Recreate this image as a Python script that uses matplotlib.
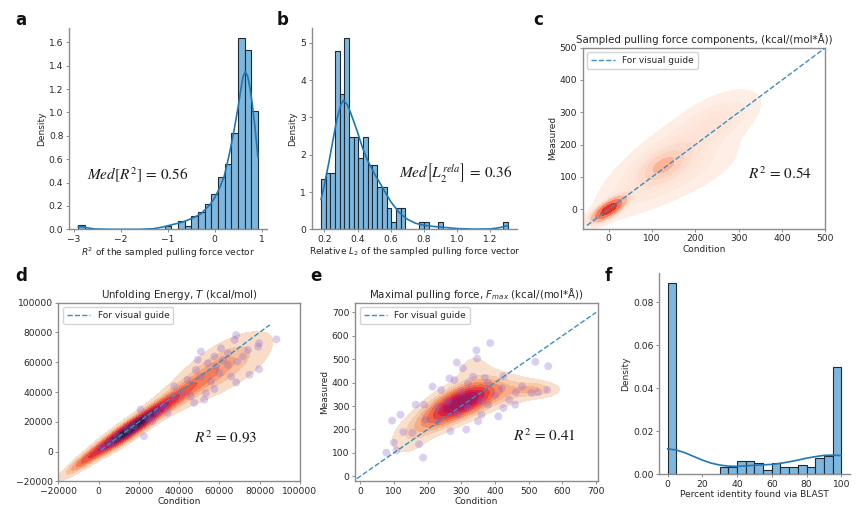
import numpy as np
import matplotlib
matplotlib.use("Agg")
import matplotlib.pyplot as plt
from matplotlib.colors import PowerNorm, ListedColormap

try:
    import seaborn as sns
    ROCKET_R = sns.color_palette("rocket_r", as_cmap=True)
except Exception:
    ROCKET_R = plt.get_cmap("magma_r")

plt.rcParams['font.family'] = ['DejaVu Sans']
plt.rcParams['mathtext.fontset'] = 'dejavusans'

# ---------------- data ----------------
# a: histogram of R^2 (27 bins)
a_bin_lo, a_bin_hi = -2.905, 0.919
a_density = [0.034, 0, 0, 0, 0, 0, 0, 0, 0, 0, 0, 0, 0, 0.03, 0, 0.07, 0.03,
             0.11, 0.15, 0.22, 0.30, 0.45, 0.56, 0.82, 1.64, 1.53, 1.01]
a_kde_x = [-2.90, -2.82, -2.70, -2.55, -2.2, -1.6, -1.3, -1.1, -0.9, -0.7, -0.5,
           -0.3, -0.1, 0.0, 0.1, 0.2, 0.3, 0.4, 0.5, 0.55, 0.6, 0.65, 0.7, 0.75,
           0.8, 0.85, 0.919]
a_kde_y = [0.022, 0.022, 0.012, 0.003, 0.0, 0.0, 0.005, 0.02, 0.04, 0.06, 0.09,
           0.13, 0.21, 0.27, 0.35, 0.45, 0.62, 0.82, 1.05, 1.18, 1.30, 1.35, 1.31,
           1.21, 1.07, 0.90, 0.62]

# b: histogram of relative L2 (40 bins)
b_bin_lo, b_bin_hi = 0.18, 1.306
b_density = [1.34, 1.52, 1.52, 4.78, 3.62, 5.14, 2.48, 2.48, 1.91, 2.48, 1.72, 1.72,
             1.14, 1.14, 0.57, 0.19, 0.57, 0.57, 0, 0, 0, 0.19, 0.19, 0, 0, 0.19,
             0, 0, 0, 0, 0, 0, 0, 0, 0, 0, 0, 0, 0, 0.19]
b_kde_x = [0.18, 0.20, 0.225, 0.25, 0.275, 0.30, 0.315, 0.34, 0.36, 0.38, 0.40,
           0.43, 0.46, 0.50, 0.55, 0.60, 0.65, 0.70, 0.75, 0.80, 0.85, 0.90,
           0.95, 1.00, 1.10, 1.20, 1.25, 1.306]
b_kde_y = [0.80, 1.20, 1.75, 2.35, 2.95, 3.35, 3.46, 3.33, 3.10, 2.85, 2.60,
           2.18, 1.85, 1.50, 1.12, 0.74, 0.45, 0.27, 0.16, 0.11, 0.08, 0.06,
           0.04, 0.02, 0.005, 0.01, 0.04, 0.10]

# f: histogram of BLAST percent identity (20 bins)
f_bin_lo, f_bin_hi = 0, 100
f_density = [0.089, 0, 0, 0, 0, 0, 0.0033, 0.0033, 0.0064, 0.0064, 0.0053, 0.0020,
             0.0053, 0.0033, 0.0033, 0.0043, 0.0033, 0.0075, 0.0085, 0.050]
f_kde_x = [0, 5, 10, 15, 20, 25, 30, 35, 40, 45, 50, 55, 60, 65, 70, 75, 80, 85,
           90, 95, 100]
f_kde_y = [0.0118, 0.0113, 0.0100, 0.0083, 0.0066, 0.0052, 0.0043, 0.0038, 0.0037,
           0.0039, 0.0042, 0.0044, 0.0046, 0.0051, 0.0058, 0.0066, 0.0075, 0.0082,
           0.0088, 0.0089, 0.0087]

# c: density cloud components (centre, spread, correlation, weight)
c_blob_x = [0, 125, 140, 260, 180]
c_blob_y = [0, 135, 155, 285, 110]
c_blob_sx = [20, 32, 85, 50, 80]
c_blob_sy = [20, 32, 90, 45, 60]
c_blob_r = [0.75, 0.5, 0.8, 0.5, 0.7]
c_blob_w = [0.30, 0.10, 0.42, 0.08, 0.10]
c_guide = [-50, 500]

# d: density cloud components and scatter points
d_blob_x = [13000, 27000, 40000, 55000, 66000, -5000, 60000]
d_blob_y = [12500, 26000, 38000, 52000, 60000, -4000, 55000]
d_blob_sx = [9000, 8000, 9000, 10000, 11000, 7000, 19000]
d_blob_sy = [8500, 7500, 8500, 10000, 11000, 7000, 18000]
d_blob_r = [0.92, 0.90, 0.86, 0.75, 0.55, 0.93, 0.8]
d_blob_w = [0.36, 0.15, 0.12, 0.11, 0.08, 0.07, 0.11]
d_pts_x = [68300, 67500, 79700, 88300, 79200, 50800, 60800, 64200, 57500, 68800,
           64200, 58300, 79700, 75000, 68300, 65800, 50800, 48300, 44200, 37500,
           57500, 52500, 47500, 45800, 41700, 37500, 32500, 29200, 24200, 20800,
           22500, 14200, 9200, 5800, 1700, 54200, 61700, 49200, 71700, 74200,
           60000, 55800, 53300, 34200, 26700, 17500]
d_pts_y = [78200, 74900, 72700, 75300, 70400, 67100, 69300, 66000, 63800, 60400,
           58200, 57100, 55300, 51600, 46400, 50400, 50400, 54900, 48200, 43800,
           42000, 34900, 32700, 37100, 39300, 37100, 30400, 26000, 22700, 28200,
           10400, 14900, 10400, 6000, 2700, 59300, 61600, 61600, 63800, 68200,
           52700, 47100, 39300, 26000, 20400, 17100]
d_guide = [1000, 85000]

# e: density cloud components and scatter points
e_blob_x = [295, 330, 220, 430, 150, 340, 520]
e_blob_y = [312, 340, 240, 360, 170, 450, 370]
e_blob_sx = [55, 60, 45, 60, 40, 40, 40]
e_blob_sy = [45, 50, 40, 35, 50, 55, 20]
e_blob_r = [0.6, 0.5, 0.5, 0.3, 0.4, 0.0, 0.0]
e_blob_w = [0.47, 0.20, 0.11, 0.09, 0.05, 0.04, 0.04]
e_pts_x = [386, 345, 347, 287, 520, 558, 370, 425, 480, 508, 528, 555, 462, 442,
           410, 350, 315, 268, 215, 165, 120, 95, 128, 100, 78, 108, 187, 175,
           155, 195, 230, 260, 300, 320, 280, 335, 380, 400, 360, 320, 290, 230,
           190, 380, 420, 240, 265, 305, 460, 425, 360]
e_pts_y = [569, 538, 503, 486, 489, 470, 421, 428, 383, 356, 359, 369, 359, 327,
           256, 235, 200, 193, 383, 306, 263, 238, 189, 144, 101, 111, 80, 137,
           186, 242, 292, 320, 362, 397, 411, 425, 397, 348, 320, 292, 263, 235,
           306, 306, 376, 369, 418, 461, 306, 292, 263]
e_guide = [-10, 700]

# ---------------- helpers ----------------
HIST_FACE = '#7db7df'
HIST_EDGE = '#1e2a36'
KDE_COL = '#1f77b4'
GUIDE_COL = '#3a8fc2'
SPINE_COL = '#8c8c8c'
TXT = '#262626'
TICK_FS = 6.6
LAB_FS = 6.5


def style_ticks(ax):
    ax.tick_params(labelsize=TICK_FS, colors=TXT, length=2.5, width=0.7,
                   color=SPINE_COL, pad=1.5)
    for s in ax.spines.values():
        s.set_color(SPINE_COL)
        s.set_linewidth(1.0)


def hist_panel(ax, lo, hi, dens, kx, ky):
    n = len(dens)
    edges = np.linspace(lo, hi, n + 1)
    w = edges[1] - edges[0]
    dens = np.asarray(dens, float)
    keep = dens > 0
    ax.bar(edges[:-1][keep], dens[keep], width=w, align='edge',
           color=HIST_FACE, edgecolor=HIST_EDGE, linewidth=0.8)
    ax.plot(kx, ky, color=KDE_COL, lw=1.2)
    ax.set_xlim(lo - 0.05 * (hi - lo), hi + 0.05 * (hi - lo))
    ax.set_ylim(0, dens.max() * 1.05)
    ax.spines['top'].set_visible(False)
    ax.spines['right'].set_visible(False)
    ax.set_ylabel('Density', fontsize=LAB_FS, color=TXT, labelpad=2)
    style_ticks(ax)


def mixture(X, Y, bx, by, bsx, bsy, br, bw):
    Z = np.zeros_like(X)
    for x0, y0, sx, sy, r, w in zip(bx, by, bsx, bsy, br, bw):
        u = (X - x0) / sx
        v = (Y - y0) / sy
        q = (u * u - 2 * r * u * v + v * v) / (1 - r * r)
        Z += w * np.exp(-0.5 * q) / (2 * np.pi * sx * sy * np.sqrt(1 - r * r))
    return Z


def iso_levels(Z, props):
    vals = np.sort(Z.ravel())[::-1]
    cum = np.cumsum(vals) / vals.sum()
    idx = np.searchsorted(cum, 1 - np.asarray(props))
    return np.take(vals, idx, mode='clip')


def sub_cmap(cmap, lo, hi):
    return ListedColormap(cmap(np.linspace(lo, hi, 256)))


def density_grid(xlim, ylim, blobs):
    xs = np.linspace(xlim[0], xlim[1], 320)
    ys = np.linspace(ylim[0], ylim[1], 320)
    X, Y = np.meshgrid(xs, ys)
    Z = mixture(X, Y, *blobs)
    lv = np.unique(iso_levels(Z, np.linspace(0.05, 1, 10)))
    return X, Y, Z, lv


def density_panel_norm(ax, xlim, ylim, blobs, cmap, gamma):
    X, Y, Z, lv = density_grid(xlim, ylim, blobs)
    ax.contourf(X, Y, Z, levels=lv, cmap=cmap,
                norm=PowerNorm(gamma, vmin=0, vmax=Z.max()), zorder=1)


def density_panel_bands(ax, xlim, ylim, blobs, cmap, positions):
    X, Y, Z, lv = density_grid(xlim, ylim, blobs)
    cols = [cmap(p) for p in positions[:len(lv) - 1]]
    ax.contourf(X, Y, Z, levels=lv, colors=cols, zorder=1)


def guide(ax, g):
    ax.plot(g, g, ls='--', color=GUIDE_COL, lw=1.0, label='For visual guide',
            zorder=3)
    leg = ax.legend(loc='upper left', fontsize=6.5, handlelength=2.6,
                    borderpad=0.45, framealpha=0.9, edgecolor='#d0d0d0',
                    fancybox=True)
    for t in leg.get_texts():
        t.set_color(TXT)


# ---------------- figure ----------------
fig = plt.figure(figsize=(8.64, 5.07), dpi=100)

# a
ax_a = fig.add_axes([0.0799, 0.5477, 0.229, 0.397])
hist_panel(ax_a, a_bin_lo, a_bin_hi, a_density, a_kde_x, a_kde_y)
ax_a.set_xticks([-3, -2, -1, 0, 1])
ax_a.set_yticks(np.arange(0, 1.61, 0.2))
ax_a.set_xlabel('$R^2$ of the sampled pulling force vector', fontsize=LAB_FS,
                color=TXT, labelpad=1)

# b
ax_b = fig.add_axes([0.3608, 0.5477, 0.238, 0.397])
hist_panel(ax_b, b_bin_lo, b_bin_hi, b_density, b_kde_x, b_kde_y)
ax_b.set_xticks([0.2, 0.4, 0.6, 0.8, 1.0, 1.2])
ax_b.set_xlabel('Relative $L_2$ of the sampled pulling force vector',
                fontsize=LAB_FS, color=TXT, labelpad=1)

# c
ax_c = fig.add_axes([0.6744, 0.549, 0.281, 0.357])
c_xlim, c_ylim = (-60, 500), (-60, 500)
density_panel_norm(ax_c, c_xlim, c_ylim,
                   (c_blob_x, c_blob_y, c_blob_sx, c_blob_sy, c_blob_r, c_blob_w),
                   sub_cmap(plt.get_cmap('Reds'), 0.0, 0.75), 0.72)
guide(ax_c, c_guide)
ax_c.set_xlim(*c_xlim)
ax_c.set_ylim(*c_ylim)
ax_c.set_xticks(range(0, 501, 100))
ax_c.set_yticks(range(0, 501, 100))
ax_c.set_xlabel('Condition', fontsize=LAB_FS, color=TXT, labelpad=1)
ax_c.set_ylabel('Measured', fontsize=LAB_FS, color=TXT, labelpad=2)
ax_c.set_title('Sampled pulling force components, (kcal/(mol*Å))',
               fontsize=7.4, color=TXT, pad=3)
style_ticks(ax_c)

# d
ax_d = fig.add_axes([0.0675, 0.0503, 0.2797, 0.353])
d_xlim, d_ylim = (-20000, 100000), (-20000, 100000)
density_panel_bands(ax_d, d_xlim, d_ylim,
                    (d_blob_x, d_blob_y, d_blob_sx, d_blob_sy, d_blob_r, d_blob_w),
                    ROCKET_R,
                    [0.04, 0.11, 0.19, 0.27, 0.35, 0.44, 0.56, 0.70, 0.84])
ax_d.scatter(d_pts_x, d_pts_y, s=32, color='#8a63d2', alpha=0.3,
             edgecolors='none', zorder=2)
guide(ax_d, d_guide)
ax_d.set_xlim(*d_xlim)
ax_d.set_ylim(*d_ylim)
ax_d.set_xticks(range(-20000, 100001, 20000))
ax_d.set_yticks(range(-20000, 100001, 20000))
ax_d.set_xlabel('Condition', fontsize=LAB_FS, color=TXT, labelpad=0.5)
ax_d.set_title('Unfolding Energy, $T$ (kcal/mol)', fontsize=7.4, color=TXT,
               pad=3)
style_ticks(ax_d)

# e
ax_e = fig.add_axes([0.4109, 0.0503, 0.281, 0.353])
e_xlim, e_ylim = (-15, 705), (-22, 742)
density_panel_bands(ax_e, e_xlim, e_ylim,
                    (e_blob_x, e_blob_y, e_blob_sx, e_blob_sy, e_blob_r, e_blob_w),
                    ROCKET_R,
                    [0.03, 0.09, 0.16, 0.24, 0.32, 0.40, 0.47, 0.54, 0.60])
ax_e.scatter(e_pts_x, e_pts_y, s=32, color='#8a63d2', alpha=0.3,
             edgecolors='none', zorder=2)
guide(ax_e, e_guide)
ax_e.set_xlim(*e_xlim)
ax_e.set_ylim(*e_ylim)
ax_e.set_xticks(range(0, 701, 100))
ax_e.set_yticks(range(0, 701, 100))
ax_e.set_xlabel('Condition', fontsize=LAB_FS, color=TXT, labelpad=0.5)
ax_e.set_ylabel('Measured', fontsize=LAB_FS, color=TXT, labelpad=2)
ax_e.set_title('Maximal pulling force, $F_{max}$ (kcal/(mol*Å))', fontsize=7.4,
               color=TXT, pad=3)
style_ticks(ax_e)

# f
ax_f = fig.add_axes([0.7627, 0.0645, 0.221, 0.3965])
hist_panel(ax_f, f_bin_lo, f_bin_hi, f_density, f_kde_x, f_kde_y)
ax_f.set_xticks(range(0, 101, 20))
ax_f.set_yticks([0.0, 0.02, 0.04, 0.06, 0.08])
ax_f.set_yticklabels(['0.00', '0.02', '0.04', '0.06', '0.08'])
ax_f.set_xlabel('Percent identity found via BLAST', fontsize=LAB_FS, color=TXT,
                labelpad=1)

# annotations
ann = dict(fontsize=11, color='#1a1a1a', va='center', ha='left',
           math_fontfamily='stix')
fig.text(0.1007, 0.655, r'$\mathit{Med}[R^2]\,=\,0.56$', **ann)
fig.text(0.462, 0.659, r'$\mathit{Med}\left[L_2^{rela}\right]\,=\,0.36$', **ann)
fig.text(0.866, 0.657, r'$R^2\,=\,0.54$', **ann)
fig.text(0.2245, 0.137, r'$R^2\,=\,0.93$', **ann)
fig.text(0.594, 0.140, r'$R^2\,=\,0.41$', **ann)

# panel letters
for lab, x, y in [('a', 0.0240, 0.960), ('b', 0.3275, 0.960), ('c', 0.6230, 0.960),
                  ('d', 0.0240, 0.455), ('e', 0.3660, 0.455), ('f', 0.7040, 0.455)]:
    fig.text(x, y, lab, fontsize=12, fontweight='bold', ha='center', va='center',
             color='#111111')

fig.savefig('out.png', dpi=100)
